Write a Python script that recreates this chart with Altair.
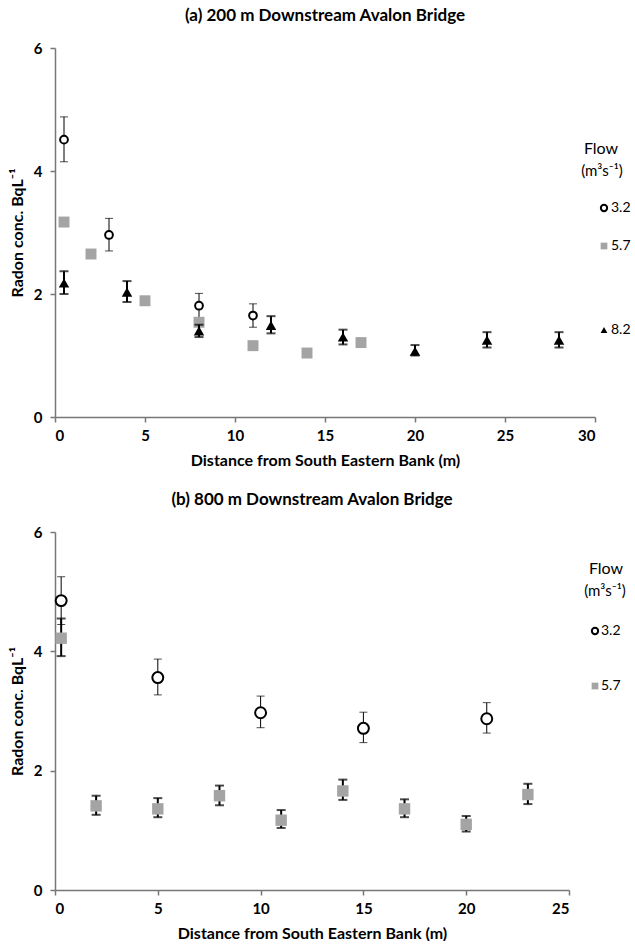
import altair as alt
import pandas as pd

FONT = "Lato"

# ---------------- Panel (a): 200 m downstream ----------------
a_x_32 = [0.5, 3, 8, 11]
a_y_32 = [4.51, 2.96, 1.81, 1.65]
a_lo_32 = [4.15, 2.70, 1.60, 1.46]
a_hi_32 = [4.88, 3.23, 2.01, 1.84]

a_x_57 = [0.5, 2, 5, 8, 11, 14, 17]
a_y_57 = [3.17, 2.65, 1.89, 1.54, 1.16, 1.04, 1.21]

a_x_82 = [0.5, 4, 8, 12, 16, 20, 24, 28]
a_y_82 = [2.18, 2.03, 1.40, 1.49, 1.30, 1.07, 1.25, 1.25]
a_lo_82 = [2.00, 1.87, 1.30, 1.36, 1.18, 1.00, 1.13, 1.13]
a_hi_82 = [2.37, 2.21, 1.50, 1.64, 1.42, 1.17, 1.38, 1.38]

# ---------------- Panel (b): 800 m downstream ----------------
b_x_32 = [0.3, 5, 10, 15, 21]
b_y_32 = [4.85, 3.56, 2.97, 2.71, 2.87]
b_lo_32 = [4.45, 3.27, 2.72, 2.47, 2.63]
b_hi_32 = [5.25, 3.87, 3.25, 2.98, 3.14]

b_x_57 = [0.3, 2, 5, 8, 11, 14, 17, 20, 23]
b_y_57 = [4.22, 1.41, 1.36, 1.58, 1.17, 1.66, 1.36, 1.10, 1.60]
b_lo_57 = [3.92, 1.26, 1.22, 1.42, 1.04, 1.51, 1.22, 0.98, 1.44]
b_hi_57 = [4.55, 1.58, 1.54, 1.75, 1.34, 1.85, 1.52, 1.24, 1.78]

y_ticks = [0, 2, 4, 6]
a_x_ticks = [0, 5, 10, 15, 20, 25, 30]
b_x_ticks = [0, 5, 10, 15, 20, 25]

TITLE_A = "(a) 200 m Downstream Avalon Bridge"
TITLE_B = "(b) 800 m Downstream Avalon Bridge"
X_TITLE = "Distance from South Eastern Bank (m)"
Y_TITLE = "Radon conc. BqL\u207b\u00b9"
LEG_TITLE = "Flow"
LEG_UNIT = "(m\u00b3s\u207b\u00b9)"

GREY = "#a4a4a4"


def xenc(xmax, ticks):
    return alt.X(
        "x:Q",
        scale=alt.Scale(domain=[0, xmax], nice=False, zero=True),
        axis=alt.Axis(values=ticks, title=X_TITLE),
    )


def yenc(field="y"):
    return alt.Y(
        f"{field}:Q",
        scale=alt.Scale(domain=[0, 6], nice=False),
        axis=alt.Axis(values=y_ticks, title=Y_TITLE),
    )


def errbars(df, xmax, ticks, width, cap):
    base = alt.Chart(df)
    rule = base.mark_rule(color="black", strokeWidth=width).encode(
        x=xenc(xmax, ticks), y=yenc("lo"), y2="hi:Q"
    )
    lo = base.mark_tick(color="black", thickness=width, size=cap, orient="horizontal").encode(
        x=xenc(xmax, ticks), y=yenc("lo")
    )
    hi = base.mark_tick(color="black", thickness=width, size=cap, orient="horizontal").encode(
        x=xenc(xmax, ticks), y=yenc("hi")
    )
    return [rule, lo, hi]


def circles(df, xmax, ticks, size):
    return alt.Chart(df).mark_point(
        shape="circle", filled=True, fill="white", stroke="black",
        strokeWidth=2, size=size, opacity=1
    ).encode(x=xenc(xmax, ticks), y=yenc())


def squares(df, xmax, ticks, size):
    return alt.Chart(df).mark_point(
        shape="square", filled=True, color=GREY, size=size, opacity=1
    ).encode(x=xenc(xmax, ticks), y=yenc())


def triangles(df, xmax, ticks, size):
    return alt.Chart(df).mark_point(
        shape="triangle-up", filled=True, color="black", size=size, opacity=1
    ).encode(x=xenc(xmax, ticks), y=yenc())


def label(text, px, py, align="center", size=14):
    return alt.Chart(pd.DataFrame({"t": [text]})).mark_text(
        font=FONT, fontSize=size, color="black", align=align, baseline="middle"
    ).encode(x=alt.value(px), y=alt.value(py), text="t:N")


def sym(shape, px, py, size, kind):
    d = pd.DataFrame({"t": [0]})
    if kind == "open":
        m = alt.Chart(d).mark_point(shape=shape, filled=True, fill="white", stroke="black",
                                    strokeWidth=2, size=size, opacity=1)
    elif kind == "grey":
        m = alt.Chart(d).mark_point(shape=shape, filled=True, color=GREY, size=size, opacity=1)
    else:
        m = alt.Chart(d).mark_point(shape=shape, filled=True, color="black", size=size, opacity=1)
    return m.encode(x=alt.value(px), y=alt.value(py))


# ----- build panel (a)
da32 = pd.DataFrame({"x": a_x_32, "y": a_y_32, "lo": a_lo_32, "hi": a_hi_32})
da57 = pd.DataFrame({"x": a_x_57, "y": a_y_57})
da82 = pd.DataFrame({"x": a_x_82, "y": a_y_82, "lo": a_lo_82, "hi": a_hi_82})

layers_a = []
layers_a += errbars(da32, 30, a_x_ticks, 1, 8)
layers_a.append(squares(da57, 30, a_x_ticks, 120))
layers_a += errbars(da82, 30, a_x_ticks, 2, 9)
layers_a.append(triangles(da82, 30, a_x_ticks, 110))
layers_a.append(circles(da32, 30, a_x_ticks, 60))
layers_a += [
    label(LEG_TITLE, 546, 101, size=16),
    label(LEG_UNIT, 547, 123, size=15),
    sym("circle", 549, 160, 40, "open"),
    label("3.2", 556, 160, align="left"),
    sym("square", 549, 198, 45, "grey"),
    label("5.7", 556, 198, align="left"),
    sym("triangle-up", 549, 282, 45, "black"),
    label("8.2", 556, 282, align="left"),
]

panel_a = alt.layer(*layers_a).properties(
    width=540, height=369,
    title=alt.TitleParams(TITLE_A, font=FONT, fontSize=17, fontWeight="bold",
                          anchor="middle", offset=16, color="black"),
)

# ----- build panel (b)
db32 = pd.DataFrame({"x": b_x_32, "y": b_y_32, "lo": b_lo_32, "hi": b_hi_32})
db57 = pd.DataFrame({"x": b_x_57, "y": b_y_57, "lo": b_lo_57, "hi": b_hi_57})

layers_b = []
layers_b += errbars(db32, 25, b_x_ticks, 1, 8)
layers_b += errbars(db57, 25, b_x_ticks, 2, 9)
layers_b.append(squares(db57, 25, b_x_ticks, 130))
layers_b.append(circles(db32, 25, b_x_ticks, 120))
layers_b += [
    label(LEG_TITLE, 551, 37, size=16),
    label(LEG_UNIT, 550, 59, size=15),
    sym("circle", 540, 99, 40, "open"),
    label("3.2", 546, 99, align="left"),
    sym("square", 540, 154, 45, "grey"),
    label("5.7", 546, 154, align="left"),
]

panel_b = alt.layer(*layers_b).properties(
    width=514, height=358,
    title=alt.TitleParams(TITLE_B, font=FONT, fontSize=17, fontWeight="bold",
                          anchor="middle", offset=16, color="black"),
)

chart = alt.vconcat(panel_a, panel_b, spacing=23).properties(
    padding={"left": 9, "top": 7, "right": 0, "bottom": 0}
).configure_view(stroke=None).configure_axis(
    grid=False,
    domainColor="#777777", domainWidth=1.5,
    tickColor="#777777", tickWidth=1.5, tickSize=5,
    labelFont=FONT, labelFontSize=15, labelColor="black", labelFontWeight="bold",
    titleFont=FONT, titleFontSize=16, titleFontWeight="bold", titleColor="black",
).configure_axisX(labelPadding=6, titlePadding=9).configure_axisY(
    labelPadding=8, titlePadding=8
)

chart.save("out.html", embed_options={"renderer": "svg", "actions": False})
